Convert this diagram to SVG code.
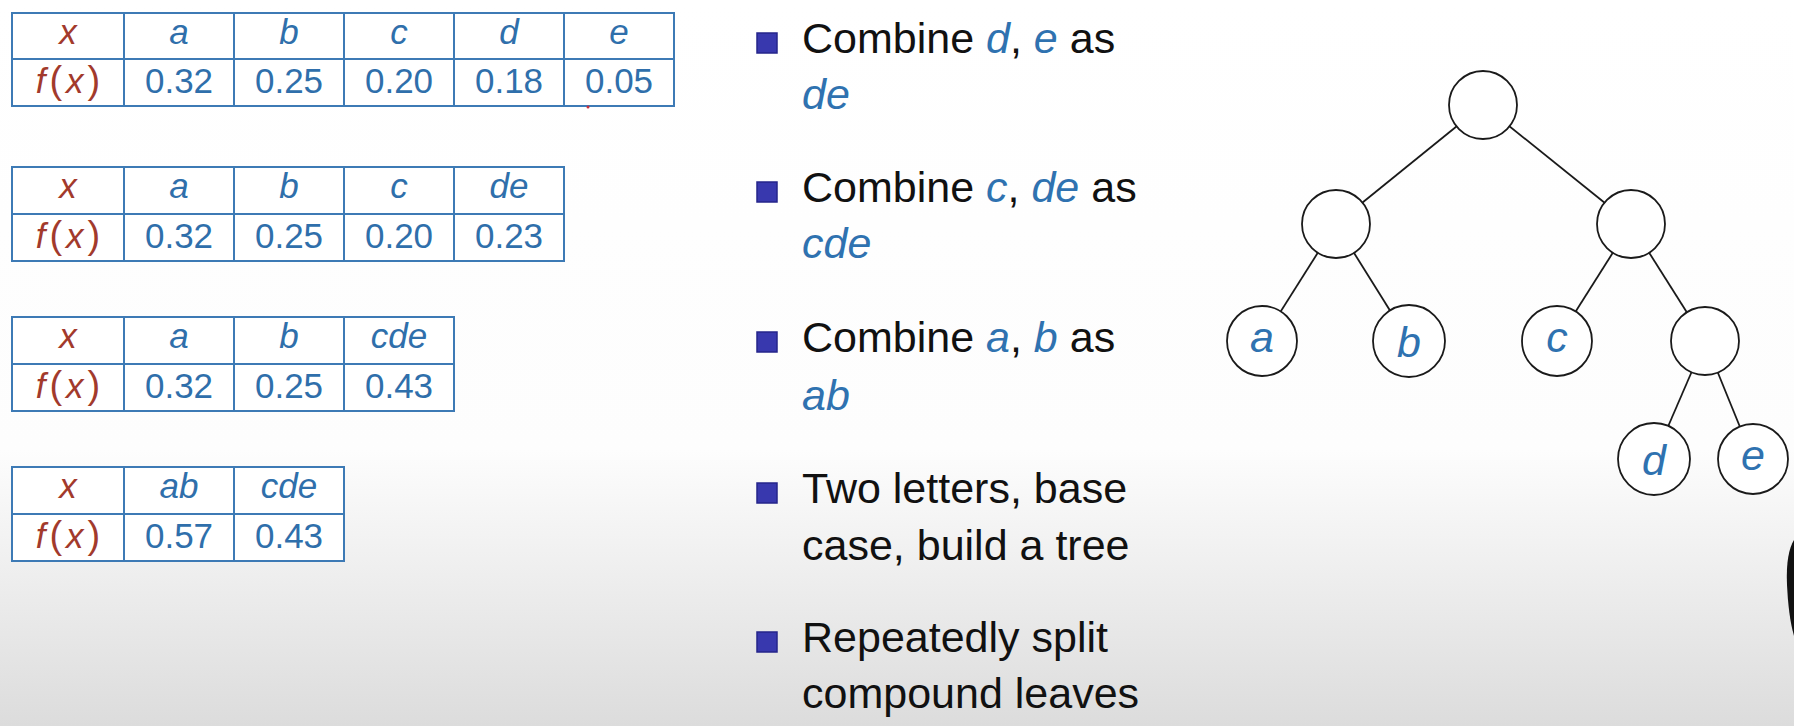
<svg xmlns="http://www.w3.org/2000/svg" width="1794" height="726" viewBox="0 0 1794 726">
  <defs>
    <linearGradient id="bg" x1="0" y1="0" x2="0" y2="726" gradientUnits="userSpaceOnUse">
      <stop offset="0" stop-color="#ffffff"/>
      <stop offset="0.62" stop-color="#fdfdfd"/>
      <stop offset="1" stop-color="#dcdcdc"/>
    </linearGradient>
    <style>
      .tbl { fill: #ffffff; stroke: #3d7ab5; stroke-width: 2; }
      .grid { stroke: #3d7ab5; stroke-width: 2; }
      .tt { font-family: "Liberation Sans", Arial, sans-serif; font-size: 35px; text-anchor: middle; }
      .hd { fill: #2f6fab; font-style: italic; }
      .val { fill: #2f6fab; }
      .red { fill: #a23a2c; }
      .fx { letter-spacing: 4px; }
      .it { font-style: italic; }
      .par { font-size: 38px; }
      .bul { fill: #3838ae; stroke: #25258a; stroke-width: 1.5; }
      .bt { font-family: "Liberation Sans", Arial, sans-serif; font-size: 43px; fill: #111111; }
      .bl { fill: #2f72b0; font-style: italic; }
      .edge { stroke: #1a1a1a; stroke-width: 1.8; fill: none; }
      .node { fill: #ffffff; stroke: #1a1a1a; stroke-width: 1.8; }
      .nl { font-family: "Liberation Sans", Arial, sans-serif; font-size: 43px; font-style: italic; fill: #2f72b0; text-anchor: middle; }
    </style>
  </defs>

  <rect x="0" y="0" width="1794" height="726" fill="url(#bg)"/>

  <!-- Table 1: x = a..e -->
  <g id="table1">
    <rect class="tbl" x="12" y="13" width="662" height="93"/>
    <line class="grid" x1="12" y1="59" x2="674" y2="59"/>
    <line class="grid" x1="124" y1="13" x2="124" y2="106"/>
    <line class="grid" x1="234" y1="13" x2="234" y2="106"/>
    <line class="grid" x1="344" y1="13" x2="344" y2="106"/>
    <line class="grid" x1="454" y1="13" x2="454" y2="106"/>
    <line class="grid" x1="564" y1="13" x2="564" y2="106"/>
    <text class="tt red it" x="68" y="44">x</text>
    <text class="tt hd" x="179" y="44">a</text>
    <text class="tt hd" x="289" y="44">b</text>
    <text class="tt hd" x="399" y="44">c</text>
    <text class="tt hd" x="509" y="44">d</text>
    <text class="tt hd" x="619" y="44">e</text>
    <text class="tt red fx" x="70" y="93"><tspan class="it">f</tspan><tspan class="par">(</tspan><tspan class="it">x</tspan><tspan class="par">)</tspan></text>
    <text class="tt val" x="179" y="93">0.32</text>
    <text class="tt val" x="289" y="93">0.25</text>
    <text class="tt val" x="399" y="93">0.20</text>
    <text class="tt val" x="509" y="93">0.18</text>
    <text class="tt val" x="619" y="93">0.05</text>
    <circle cx="588" cy="107" r="1.5" fill="#c8303c"/>
  </g>

  <!-- Table 2: d, e merged -->
  <g id="table2">
    <rect class="tbl" x="12" y="167" width="552" height="94"/>
    <line class="grid" x1="12" y1="214" x2="564" y2="214"/>
    <line class="grid" x1="124" y1="167" x2="124" y2="261"/>
    <line class="grid" x1="234" y1="167" x2="234" y2="261"/>
    <line class="grid" x1="344" y1="167" x2="344" y2="261"/>
    <line class="grid" x1="454" y1="167" x2="454" y2="261"/>
    <text class="tt red it" x="68" y="198">x</text>
    <text class="tt hd" x="179" y="198">a</text>
    <text class="tt hd" x="289" y="198">b</text>
    <text class="tt hd" x="399" y="198">c</text>
    <text class="tt hd" x="509" y="198">de</text>
    <text class="tt red fx" x="70" y="248"><tspan class="it">f</tspan><tspan class="par">(</tspan><tspan class="it">x</tspan><tspan class="par">)</tspan></text>
    <text class="tt val" x="179" y="248">0.32</text>
    <text class="tt val" x="289" y="248">0.25</text>
    <text class="tt val" x="399" y="248">0.20</text>
    <text class="tt val" x="509" y="248">0.23</text>
  </g>

  <!-- Table 3: c, de merged -->
  <g id="table3">
    <rect class="tbl" x="12" y="317" width="442" height="94"/>
    <line class="grid" x1="12" y1="364" x2="454" y2="364"/>
    <line class="grid" x1="124" y1="317" x2="124" y2="411"/>
    <line class="grid" x1="234" y1="317" x2="234" y2="411"/>
    <line class="grid" x1="344" y1="317" x2="344" y2="411"/>
    <text class="tt red it" x="68" y="348">x</text>
    <text class="tt hd" x="179" y="348">a</text>
    <text class="tt hd" x="289" y="348">b</text>
    <text class="tt hd" x="399" y="348">cde</text>
    <text class="tt red fx" x="70" y="398"><tspan class="it">f</tspan><tspan class="par">(</tspan><tspan class="it">x</tspan><tspan class="par">)</tspan></text>
    <text class="tt val" x="179" y="398">0.32</text>
    <text class="tt val" x="289" y="398">0.25</text>
    <text class="tt val" x="399" y="398">0.43</text>
  </g>

  <!-- Table 4: a, b merged -->
  <g id="table4">
    <rect class="tbl" x="12" y="467" width="332" height="94"/>
    <line class="grid" x1="12" y1="514" x2="344" y2="514"/>
    <line class="grid" x1="124" y1="467" x2="124" y2="561"/>
    <line class="grid" x1="234" y1="467" x2="234" y2="561"/>
    <text class="tt red it" x="68" y="498">x</text>
    <text class="tt hd" x="179" y="498">ab</text>
    <text class="tt hd" x="289" y="498">cde</text>
    <text class="tt red fx" x="70" y="548"><tspan class="it">f</tspan><tspan class="par">(</tspan><tspan class="it">x</tspan><tspan class="par">)</tspan></text>
    <text class="tt val" x="179" y="548">0.57</text>
    <text class="tt val" x="289" y="548">0.43</text>
  </g>

  <!-- Bullet list -->
  <g id="steps">
    <rect class="bul" x="757" y="33" width="20" height="20"/>
    <text class="bt" x="802" y="53">Combine <tspan class="bl">d</tspan>, <tspan class="bl">e</tspan> as</text>
    <text class="bt" x="802" y="109"><tspan class="bl">de</tspan></text>

    <rect class="bul" x="757" y="182" width="20" height="20"/>
    <text class="bt" x="802" y="202">Combine <tspan class="bl">c</tspan>, <tspan class="bl">de</tspan> as</text>
    <text class="bt" x="802" y="258"><tspan class="bl">cde</tspan></text>

    <rect class="bul" x="757" y="332" width="20" height="20"/>
    <text class="bt" x="802" y="352">Combine <tspan class="bl">a</tspan>, <tspan class="bl">b</tspan> as</text>
    <text class="bt" x="802" y="410"><tspan class="bl">ab</tspan></text>

    <rect class="bul" x="757" y="483" width="20" height="20"/>
    <text class="bt" x="802" y="503">Two letters, base</text>
    <text class="bt" x="802" y="560">case, build a tree</text>

    <rect class="bul" x="757" y="632" width="20" height="20"/>
    <text class="bt" x="802" y="652">Repeatedly split</text>
    <text class="bt" x="802" y="708">compound leaves</text>
  </g>

  <!-- Tree edges -->
  <g id="edges">
    <line class="edge" x1="1483" y1="105" x2="1336" y2="224"/>
    <line class="edge" x1="1483" y1="105" x2="1631" y2="224"/>
    <line class="edge" x1="1336" y1="224" x2="1262" y2="341"/>
    <line class="edge" x1="1336" y1="224" x2="1409" y2="341"/>
    <line class="edge" x1="1631" y1="224" x2="1557" y2="341"/>
    <line class="edge" x1="1631" y1="224" x2="1705" y2="341"/>
    <line class="edge" x1="1705" y1="341" x2="1654" y2="459"/>
    <line class="edge" x1="1705" y1="341" x2="1753" y2="459"/>
  </g>

  <!-- Tree nodes -->
  <g id="root"><circle class="node" cx="1483" cy="105" r="34"/></g>
  <g id="ab"><circle class="node" cx="1336" cy="224" r="34"/></g>
  <g id="cde"><circle class="node" cx="1631" cy="224" r="34"/></g>
  <g id="leaf-a"><circle class="node" cx="1262" cy="341" r="35"/><text class="nl" x="1262" y="352">a</text></g>
  <g id="leaf-b"><circle class="node" cx="1409" cy="341" r="36"/><text class="nl" x="1409" y="357">b</text></g>
  <g id="leaf-c"><circle class="node" cx="1557" cy="341" r="35"/><text class="nl" x="1557" y="352">c</text></g>
  <g id="de"><circle class="node" cx="1705" cy="341" r="34"/></g>
  <g id="leaf-d"><circle class="node" cx="1654" cy="459" r="36"/><text class="nl" x="1654" y="475">d</text></g>
  <g id="leaf-e"><circle class="node" cx="1753" cy="459" r="35"/><text class="nl" x="1753" y="470">e</text></g>

  <!-- dark edge at the right border -->
  <path d="M1794,540 C1789,548 1786,562 1787,585 C1788,605 1790,622 1794,636 Z" fill="#111111"/>
</svg>
